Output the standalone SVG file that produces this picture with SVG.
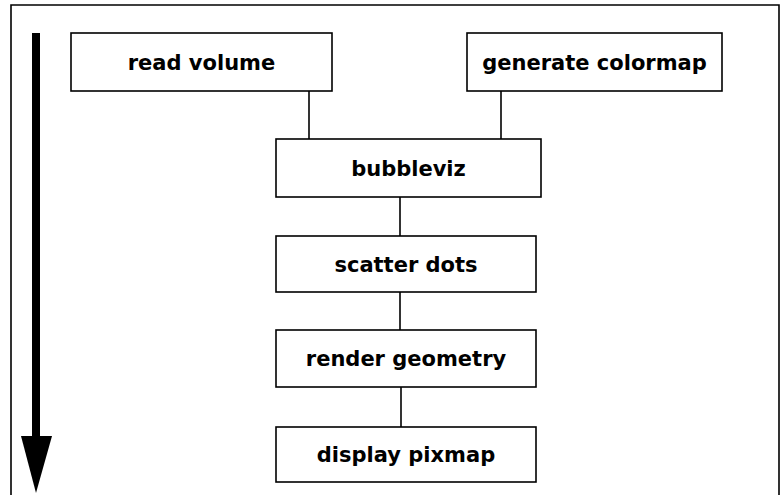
<svg xmlns="http://www.w3.org/2000/svg" width="782" height="495" viewBox="0 0 782 495">
<style>
.box{fill:#fff;stroke:#000;stroke-width:1.6}
.lbl{font-family:"DejaVu Sans",sans-serif;font-weight:bold;font-size:21px;fill:#000;text-anchor:middle}
.con{stroke:#000;stroke-width:1.6;fill:none}
</style>
<rect width="782" height="495" fill="#fff"/>
<path d="M11,500 V5 H779 V500" fill="none" stroke="#000" stroke-width="1.6"/>
<g id="time-arrow">
<rect x="32" y="33" width="8" height="405" fill="#000"/>
<polygon points="21,436 52,436 36,493" fill="#000"/>
</g>
<g id="connectors">
<line class="con" x1="309" y1="91" x2="309" y2="139"/>
<line class="con" x1="501" y1="91" x2="501" y2="139"/>
<line class="con" x1="400" y1="197" x2="400" y2="236"/>
<line class="con" x1="400" y1="292" x2="400" y2="330"/>
<line class="con" x1="401" y1="387" x2="401" y2="427"/>
</g>
<g id="read-volume">
<rect class="box" x="71" y="33" width="261" height="58"/>
<text class="lbl" x="201.5" y="70">read volume</text>
</g>
<g id="generate-colormap">
<rect class="box" x="467" y="33" width="255" height="58"/>
<text class="lbl" x="594.5" y="70">generate colormap</text>
</g>
<g id="bubbleviz">
<rect class="box" x="276" y="139" width="265" height="58"/>
<text class="lbl" x="408.5" y="176">bubbleviz</text>
</g>
<g id="scatter-dots">
<rect class="box" x="276" y="236" width="260" height="56"/>
<text class="lbl" x="406" y="272">scatter dots</text>
</g>
<g id="render-geometry">
<rect class="box" x="276" y="330" width="260" height="57"/>
<text class="lbl" x="406" y="366">render geometry</text>
</g>
<g id="display-pixmap">
<rect class="box" x="276" y="427" width="260" height="55"/>
<text class="lbl" x="406" y="462">display pixmap</text>
</g>
</svg>
